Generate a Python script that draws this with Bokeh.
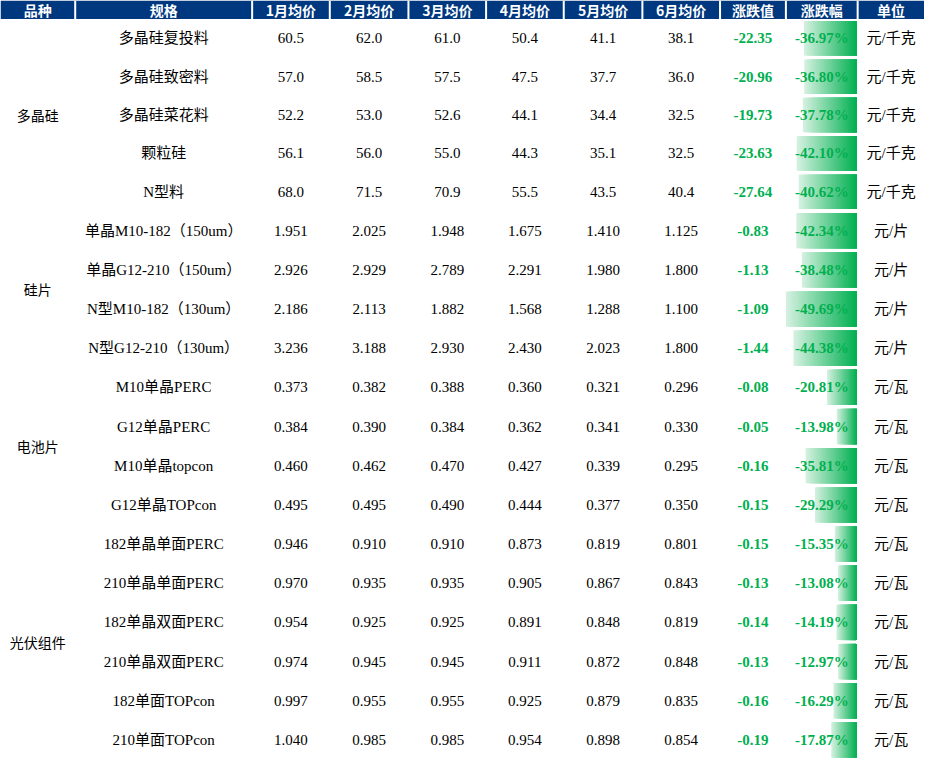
from bokeh.plotting import figure
from bokeh.models import ColumnDataSource, Range1d
from bokeh.core.properties import value
from bokeh.embed import file_html
from bokeh.resources import INLINE

# ---------------- data ----------------
headers = ["品种", "规格", "1月均价", "2月均价", "3月均价", "4月均价", "5月均价", "6月均价", "涨跌值", "涨跌幅", "单位"]
groups = ["多晶硅", "硅片", "电池片", "光伏组件"]
group_sizes = [5, 4, 4, 6]
specs = ["多晶硅复投料", "多晶硅致密料", "多晶硅菜花料", "颗粒硅", "N型料",
         "单晶M10-182（150um）", "单晶G12-210（150um）", "N型M10-182（130um）", "N型G12-210（130um）",
         "M10单晶PERC", "G12单晶PERC", "M10单晶topcon", "G12单晶TOPcon",
         "182单晶单面PERC", "210单晶单面PERC", "182单晶双面PERC", "210单晶双面PERC", "182单面TOPcon", "210单面TOPcon"]
jan = [60.5, 57.0, 52.2, 56.1, 68.0, 1.951, 2.926, 2.186, 3.236, 0.373, 0.384, 0.460, 0.495,
       0.946, 0.970, 0.954, 0.974, 0.997, 1.040]
feb = [62.0, 58.5, 53.0, 56.0, 71.5, 2.025, 2.929, 2.113, 3.188, 0.382, 0.390, 0.462, 0.495,
       0.910, 0.935, 0.925, 0.945, 0.955, 0.985]
mar = [61.0, 57.5, 52.6, 55.0, 70.9, 1.948, 2.789, 1.882, 2.930, 0.388, 0.384, 0.470, 0.490,
       0.910, 0.935, 0.925, 0.945, 0.955, 0.985]
apr = [50.4, 47.5, 44.1, 44.3, 55.5, 1.675, 2.291, 1.568, 2.430, 0.360, 0.362, 0.427, 0.444,
       0.873, 0.905, 0.891, 0.911, 0.925, 0.954]
may = [41.1, 37.7, 34.4, 35.1, 43.5, 1.410, 1.980, 1.288, 2.023, 0.321, 0.341, 0.339, 0.377,
       0.819, 0.867, 0.848, 0.872, 0.879, 0.898]
jun = [38.1, 36.0, 32.5, 32.5, 40.4, 1.125, 1.800, 1.100, 1.800, 0.296, 0.330, 0.295, 0.350,
       0.801, 0.843, 0.819, 0.848, 0.835, 0.854]
change = [-22.35, -20.96, -19.73, -23.63, -27.64, -0.83, -1.13, -1.09, -1.44, -0.08, -0.05, -0.16, -0.15,
          -0.15, -0.13, -0.14, -0.13, -0.16, -0.19]
pct = [-36.97, -36.80, -37.78, -42.10, -40.62, -42.34, -38.48, -49.69, -44.38, -20.81, -13.98, -35.81, -29.29,
       -15.35, -13.08, -14.19, -12.97, -16.29, -17.87]
units = ["元/千克"] * 5 + ["元/片"] * 4 + ["元/瓦"] * 10
decimals = [1] * 5 + [3] * 14

# ---------------- layout (styles) ----------------
W, H = 940, 776
col_edges = [0, 76, 256, 335, 415, 494, 573, 653, 732, 799, 872, 940]
header_h = 19
row_heights = [39.2] * 5 + [40] * 14
HEADER_BLUE = "#00387F"
GREEN = "#00B050"
SERIF_CJK = "'Liberation Serif', 'Noto Sans CJK SC'"
CJK = "'Noto Sans CJK SC'"

col_centers = [(col_edges[i] + col_edges[i + 1]) / 2 for i in range(len(col_edges) - 1)]
row_tops = []
t = header_h
for h in row_heights:
    row_tops.append(t)
    t += h
row_bottoms = [rt + h for rt, h in zip(row_tops, row_heights)]
row_centers = [(a + b) / 2 for a, b in zip(row_tops, row_bottoms)]

p = figure(width=924, height=760, x_range=Range1d(0, W), y_range=Range1d(H, 0),
           output_backend="svg", toolbar_location=None, min_border=0,
           outline_line_color=None, background_fill_color="white")
p.axis.visible = False
p.grid.visible = False

# header band
p.quad(left=[0], right=[W], top=[0], bottom=[header_h], fill_color=HEADER_BLUE, line_color=None)
p.segment(x0=col_edges[1:-1], x1=col_edges[1:-1], y0=[0] * (len(col_edges) - 2),
          y1=[header_h] * (len(col_edges) - 2), line_color="white", line_width=2)
p.text(x=col_centers, y=[header_h / 2 + 0.5] * len(headers), text=headers,
       text_font=value(CJK), text_font_size="14px", text_font_style="bold",
       text_color="white", text_align="center", text_baseline="middle")

# gradient data bars for 涨跌幅 (stacked slices, each running to the bar's right end)
bar_left_edge, bar_right_edge = col_edges[9], col_edges[10] - 1
max_abs = max(abs(v) for v in pct)
N = 32
c0 = (214, 241, 225)
c1 = (0, 176, 80)
L, R, T, B, C = [], [], [], [], []
for i, v in enumerate(pct):
    wbar = abs(v) / max_abs * (bar_right_edge - bar_left_edge)
    x0 = bar_right_edge - wbar
    for k in range(N):
        f = (k + 0.5) / N
        col = tuple(int(round(c0[j] + (c1[j] - c0[j]) * f)) for j in range(3))
        L.append(x0 + wbar * k / N)
        R.append(bar_right_edge)
        T.append(row_tops[i] + 2)
        B.append(row_bottoms[i] - 2)
        C.append("#%02x%02x%02x" % col)
p.quad(left=L, right=R, top=T, bottom=B, fill_color=C, line_color=None)

# group labels
g_y = []
start = 0
for n in group_sizes:
    g_y.append((row_tops[start] + row_bottoms[start + n - 1]) / 2)
    start += n
p.text(x=[col_centers[0]] * len(groups), y=g_y, text=groups, text_font=value(CJK),
       text_font_size="14px", text_color="#000000", text_align="center", text_baseline="middle")

# spec column
p.text(x=[col_centers[1]] * len(specs), y=row_centers, text=specs, text_font=value(SERIF_CJK),
       text_font_size="15px", text_color="#000000", text_align="center", text_baseline="middle")

# monthly prices
for ci, series in zip(range(2, 8), [jan, feb, mar, apr, may, jun]):
    labels = [f"{v:.{d}f}" for v, d in zip(series, decimals)]
    src = ColumnDataSource(dict(x=[col_centers[ci]] * len(labels), y=row_centers, t=labels))
    p.text(x="x", y="y", text="t", source=src, text_font=value("Liberation Serif"),
           text_font_size="15px", text_color="#000000", text_align="center", text_baseline="middle")

# change values
p.text(x=[col_centers[8]] * len(change), y=row_centers, text=[f"{v:.2f}" for v in change],
       text_font=value("Liberation Serif"), text_font_size="15px", text_font_style="bold",
       text_color=GREEN, text_align="center", text_baseline="middle")

# percentage change
p.text(x=[col_centers[9]] * len(pct), y=row_centers, text=[f"{v:.2f}%" for v in pct],
       text_font=value("Liberation Serif"), text_font_size="15px", text_font_style="bold",
       text_color=GREEN, text_align="center", text_baseline="middle")

# units
p.text(x=[col_centers[10]] * len(units), y=row_centers, text=units, text_font=value(SERIF_CJK),
       text_font_size="15px", text_color="#000000", text_align="center", text_baseline="middle")

open("out.html", "w").write(file_html(p, INLINE))
